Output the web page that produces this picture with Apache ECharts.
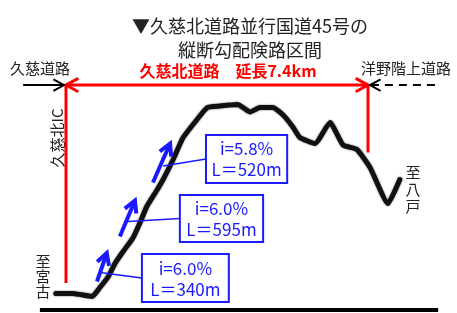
<!DOCTYPE html>
<html>
<head>
<meta charset="utf-8">
<script src="https://cdn.jsdelivr.net/npm/echarts@6/dist/echarts.min.js"></script>
<style>
html, body { margin: 0; padding: 0; background: #fff; }
#chart { width: 457px; height: 313px; }
</style>
</head>
<body>
<div id="chart"></div>
<script>
// 縦断プロファイル（久慈北IC起点の距離 km / 標高 相対m）
const distKm = [-0.25, 0.17, 0.64, 0.83, 1.03, 1.2, 1.4, 1.64, 1.81, 1.98, 2.23, 2.38, 2.62, 2.87, 3.21, 3.46,
    3.77, 4.21, 4.34, 4.51, 4.75, 5.07, 5.32, 5.56, 5.73, 6.1, 6.47, 6.79, 7.13, 7.45, 7.89, 8.18];
const elevM = [11, 11, 9, 15, 22, 31, 39, 48, 58, 69, 80, 87, 100, 115, 127, 135,
    136, 137, 135, 132, 135, 135, 130, 122, 115, 111, 125, 110, 107, 95, 71, 87];

// 区間の両端（久慈北IC / 洋野階上道路側）
const sectionKm = [0, 7.4];
const sectionLabel = "久慈北道路　延長7.4km";

// 急勾配区間
const gradeText = ["i=6.0%", "i=6.0%", "i=5.8%"];
const lengthText = ["L＝340m", "L＝595m", "L＝520m"];
const gradeAnchor = [[0.83, 25], [1.52, 59], [2.38, 96]];
const gradeArrow = [[0.76, 19, 1.0, 38], [1.32, 49, 1.69, 73], [2.13, 85, 2.55, 111]];
// 吹き出し枠の位置 [左, 上, 右, 下]
const boxPos = [[1.86, 37.3, 3.99, 5.3], [2.79, 76.7, 4.83, 45.3], [3.43, 116.7, 5.42, 84.7]];

const FONT = "'Noto Sans CJK JP', sans-serif";
const BLUE = "#1a1aff";
const RED = "#ff0000";

const chart = echarts.init(document.getElementById("chart"));

// 矢印（開いた矢じり）
function arrowItem(color, width, head, dash) {
    return function (params, api) {
        const p1 = api.coord([api.value(0), api.value(1)]);
        const p2 = api.coord([api.value(2), api.value(3)]);
        const a = Math.atan2(p2[1] - p1[1], p2[0] - p1[0]);
        const s = 0.5;
        const h1 = [p2[0] - head * Math.cos(a - s), p2[1] - head * Math.sin(a - s)];
        const h2 = [p2[0] - head * Math.cos(a + s), p2[1] - head * Math.sin(a + s)];
        return {
            type: "group",
            children: [
                { type: "line", shape: { x1: p1[0], y1: p1[1], x2: p2[0], y2: p2[1] },
                  style: { stroke: color, lineWidth: width, lineDash: dash || null } },
                { type: "polyline", shape: { points: [h1, p2, h2] },
                  style: { stroke: color, lineWidth: width, fill: null, lineJoin: "miter" } },
            ],
        };
    };
}

const calloutData = boxPos.map((b, i) => b.concat(gradeAnchor[i], [i]));

const option = {
    animation: false,
    backgroundColor: "#fff",
    grid: { left: 0, right: 0, top: 0, bottom: 0 },
    // 40.8px/km, 1.5px/m
    xAxis: { type: "value", min: -1.617, max: 9.581, show: false },
    yAxis: { type: "value", min: -2, max: 206.7, show: false },
    title: {
        text: "▼久慈北道路並行国道45号の\n縦断勾配険路区間",
        left: 245,
        top: 9,
        textAlign: "center",
        textStyle: { fontFamily: FONT, fontSize: 18, fontWeight: "normal", color: "#222", lineHeight: 24 },
    },
    graphic: [
        { type: "text", left: 10, top: 61,
          style: { text: "久慈道路", font: "15px " + FONT, fill: "#222" } },
        { type: "text", left: 361, top: 61,
          style: { text: "洋野階上道路", font: "15px " + FONT, fill: "#222" } },
        { type: "text", x: 228, y: 71,
          style: { text: sectionLabel, font: "bold 16px " + FONT, fill: RED, align: "center", verticalAlign: "middle" } },
        { type: "text", x: 57, y: 138, rotation: Math.PI / 2,
          style: { text: "久慈北IC", font: "15px " + FONT, fill: "#222", align: "center", verticalAlign: "middle" } },
        { type: "text", x: 43, y: 276,
          style: { text: "至\n宮\n古", font: "15px " + FONT, fill: "#222", align: "center", verticalAlign: "middle", lineHeight: 15 } },
        { type: "text", x: 413, y: 189,
          style: { text: "至\n八\n戸", font: "15px " + FONT, fill: "#222", align: "center", verticalAlign: "middle", lineHeight: 17 } },
    ],
    series: [
        {   // 地盤線
            type: "line", symbol: "none",
            data: [[-0.64, 0], [9.12, 0]],
            lineStyle: { color: "#000", width: 4 },
        },
        {   // 起点の縦線
            type: "line", symbol: "none",
            data: [[sectionKm[0], 18], [sectionKm[0], 150]],
            lineStyle: { color: RED, width: 3 },
        },
        {   // 終点の縦線
            type: "line", symbol: "none",
            data: [[sectionKm[1], 105], [sectionKm[1], 150]],
            lineStyle: { color: RED, width: 3 },
        },
        {   // 縦断線
            type: "line", symbol: "none", smooth: 0.15,
            data: distKm.map((d, i) => [d, elevM[i]]),
            lineStyle: { color: "#111", width: 5, cap: "round", join: "round", shadowBlur: 2, shadowColor: "rgba(0,0,0,0.6)" },
            z: 3,
        },
        {   // 延長の赤矢印
            type: "custom",
            renderItem: arrowItem(RED, 3, 14),
            data: [[3.7, 150, sectionKm[0], 150], [3.7, 150, sectionKm[1], 150]],
            z: 4,
        },
        {   // 久慈道路側
            type: "custom",
            renderItem: arrowItem("#000", 2, 12),
            data: [[-1.05, 150, sectionKm[0] - 0.05, 150]],
            z: 4,
        },
        {   // 洋野階上道路側（計画）
            type: "custom",
            renderItem: arrowItem("#000", 2, 12, [8, 6]),
            data: [[9.04, 150, sectionKm[1] + 0.05, 150]],
            z: 4,
        },
        {   // 勾配の青矢印
            type: "custom",
            renderItem: arrowItem(BLUE, 4, 13),
            data: gradeArrow,
            z: 5,
        },
        {   // 勾配の吹き出し
            type: "custom",
            renderItem: function (params, api) {
                const tl = api.coord([api.value(0), api.value(1)]);
                const br = api.coord([api.value(2), api.value(3)]);
                const an = api.coord([api.value(4), api.value(5)]);
                const k = api.value(6);
                const cx = (tl[0] + br[0]) / 2;
                const cy = (tl[1] + br[1]) / 2;
                return {
                    type: "group",
                    children: [
                        { type: "line", shape: { x1: tl[0], y1: cy, x2: an[0], y2: an[1] },
                          style: { stroke: BLUE, lineWidth: 1.5 } },
                        { type: "rect", shape: { x: tl[0], y: tl[1], width: br[0] - tl[0], height: br[1] - tl[1] },
                          style: { fill: "#fff", stroke: BLUE, lineWidth: 2 } },
                        { type: "text", style: { x: cx, y: cy - 10, text: gradeText[k], font: "17px " + FONT,
                          fill: BLUE, align: "center", verticalAlign: "middle" } },
                        { type: "text", style: { x: cx, y: cy + 11, text: lengthText[k], font: "17px " + FONT,
                          fill: BLUE, align: "center", verticalAlign: "middle" } },
                    ],
                };
            },
            data: calloutData,
            z: 6,
        },
    ],
};

chart.setOption(option);
</script>
</body>
</html>
